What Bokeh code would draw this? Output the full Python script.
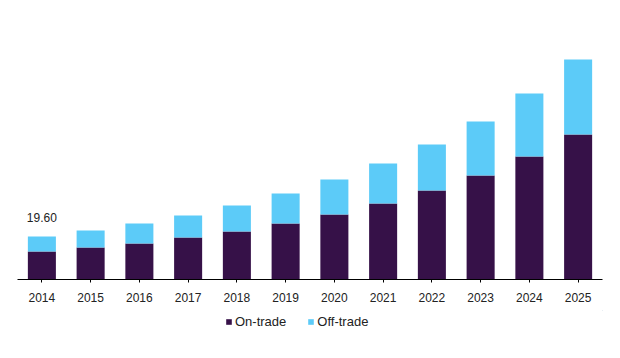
from bokeh.plotting import figure
from bokeh.layouts import column
from bokeh.models import ColumnDataSource, Range1d, FactorRange, Legend, LegendItem
from bokeh.core.properties import value
from bokeh.embed import file_html
from bokeh.resources import INLINE

years = ["2014", "2015", "2016", "2017", "2018", "2019", "2020", "2021", "2022", "2023", "2024", "2025"]
on_trade = [12.76, 14.59, 16.41, 19.14, 21.88, 25.52, 29.63, 34.64, 40.56, 47.40, 56.06, 66.09]
off_trade = [6.84, 7.74, 9.11, 10.03, 11.85, 13.67, 15.95, 18.23, 20.97, 24.61, 28.72, 34.18]
series = ["On-trade", "Off-trade"]
colors = ["#361148", "#5CCBF8"]

FONT = "Liberation Sans"

src = ColumnDataSource(dict(year=years, on=on_trade, off=off_trade))

p = figure(width=620, height=310, x_range=FactorRange(*years), y_range=Range1d(0, 118.96),
           output_backend="svg", toolbar_location=None,
           min_border_left=17, min_border_right=18, min_border_top=18, min_border_bottom=31)
p.x_range.range_padding = 0
p.outline_line_color = None
p.xgrid.visible = False
p.ygrid.visible = False
p.yaxis.visible = False

rs = p.vbar_stack(["on", "off"], x="year", width=0.575, source=src, color=colors, line_color=None)

ax = p.xaxis[0]
ax.axis_line_color = "black"
ax.axis_line_width = 1
ax.major_tick_in = 0
ax.major_tick_out = 3
ax.major_tick_line_color = "black"
ax.minor_tick_line_color = None
ax.major_label_text_font = FONT
ax.major_label_text_font_size = "12px"
ax.major_label_text_color = "#222222"
ax.major_label_standoff = 10

first_total = on_trade[0] + off_trade[0]
p.text(x=[years[0]], y=[first_total], text=[f"{first_total:.2f}"], text_font=value(FONT),
       text_font_size="12px", text_color="#222222", text_align="center", text_baseline="bottom",
       y_offset=-14)

# legend strip below the chart; its stand-in bars sit outside the visible range
lg = figure(width=620, height=48, x_range=Range1d(0, 1), y_range=Range1d(0, 1),
            output_backend="svg", toolbar_location=None,
            min_border_left=0, min_border_right=0, min_border_top=0, min_border_bottom=0)
lg.outline_line_color = None
lg.axis.visible = False
lg.grid.visible = False
lr = [lg.vbar(x=[5], top=[6], bottom=[5], width=0.5, color=c, line_color=None) for c in colors]

legend = Legend(items=[LegendItem(label=s, renderers=[r]) for s, r in zip(series, lr)],
                orientation="horizontal", location=(208, 29))
legend.glyph_width = 7
legend.glyph_height = 7
legend.label_standoff = 3
legend.spacing = 21
legend.padding = 0
legend.margin = 0
legend.border_line_color = None
legend.background_fill_alpha = 0
legend.label_text_font = FONT
legend.label_text_font_size = "13px"
legend.label_text_color = "#222222"
legend.label_height = 14
lg.add_layout(legend, "center")

layout = column(p, lg, spacing=0)
open("out.html", "w").write(file_html(layout, INLINE))
